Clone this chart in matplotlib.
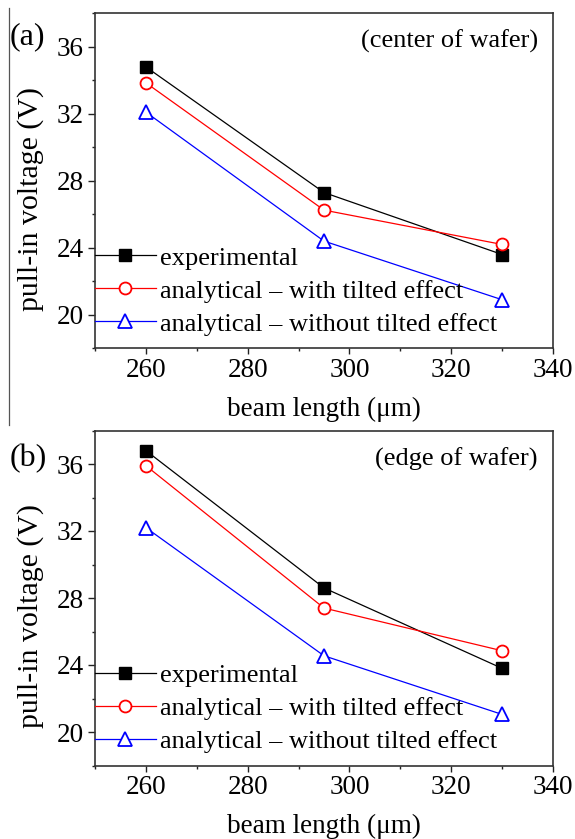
import numpy as np
import matplotlib
matplotlib.use("Agg")
from matplotlib import pyplot as plt
from matplotlib.lines import Line2D
from matplotlib.ticker import MultipleLocator

### data ###

beam_length = [260, 295, 330]

# (a) center of wafer
center_exp = [34.8, 27.3, 23.6]
center_tilt = [33.85, 26.25, 24.2]
center_no_tilt = [32.1, 24.4, 20.9]

# (b) edge of wafer
edge_exp = [36.8, 28.6, 23.8]
edge_tilt = [35.9, 27.4, 24.85]
edge_no_tilt = [32.2, 24.55, 21.05]

series_labels = ["experimental",
                 "analytical \u2013 with tilted effect",
                 "analytical \u2013 without tilted effect"]
panel_tags = ["(a)", "(b)"]
panel_notes = ["(center of wafer)", "(edge of wafer)"]

### style ###

plt.rcParams['font.family'] = ['Liberation Serif', 'DejaVu Serif']

W, H = 575, 839


def draw_panel(fig, rect, exp, tilt, no_tilt, tag, note, tag_y):
    ax = fig.add_axes(rect)
    ax.plot(beam_length, exp, color='black', lw=0.9, marker='s', markersize=8.4,
            markerfacecolor='black', markeredgecolor='black', label=series_labels[0])
    ax.plot(beam_length, tilt, color='red', lw=0.9, marker='o', markersize=8.6,
            markerfacecolor='white', markeredgecolor='red', markeredgewidth=1.3,
            label=series_labels[1])
    ax.plot(beam_length, no_tilt, color='blue', lw=0.9, marker='^', markersize=9.5,
            markerfacecolor='white', markeredgecolor='blue', markeredgewidth=1.3,
            label=series_labels[2])

    ax.set_xlim(250, 340)
    ax.set_ylim(18, 38)
    ax.xaxis.set_major_locator(MultipleLocator(20))
    ax.xaxis.set_minor_locator(MultipleLocator(10))
    ax.yaxis.set_major_locator(MultipleLocator(4))
    ax.yaxis.set_minor_locator(MultipleLocator(2))
    ax.set_xticks([260, 280, 300, 320, 340])
    ax.tick_params(which='major', direction='out', length=4, width=1.0,
                   labelsize=19.5, pad=3, color='#222222')
    ax.tick_params(which='minor', direction='out', length=2.5, width=1.0, color='#222222')
    ax.tick_params(axis='y', which='major', length=5, pad=3)
    for side in ['left', 'bottom', 'top', 'right']:
        ax.spines[side].set_linewidth(1.2)
        ax.spines[side].set_color('#333333')
    ax.set_xlabel("beam length (\u03bcm)", fontsize=19.5, labelpad=10)
    ax.set_ylabel("pull-in voltage (V)", fontsize=21.5)
    # label sits a bit below the axis middle, as in the original figure
    ax.yaxis.set_label_coords(-0.112, 0.445)

    ax.text(0.967, 0.915, note, transform=ax.transAxes, ha='right', va='center',
            fontsize=19)
    fig.text(10 / W, tag_y, tag, ha='left', va='center', fontsize=23)

    ax.legend(loc='lower left', bbox_to_anchor=(0.0, 0.038), frameon=False,
              fontsize=19, handlelength=2.3, handletextpad=0.18,
              labelspacing=0.36, borderpad=0.0, borderaxespad=0.0)
    return ax


fig = plt.figure(figsize=(W / 100, H / 100), dpi=100)

left = 95 / W
width = 458 / W
height = 335 / H

draw_panel(fig, [left, 1 - 348.3 / H, width, height],
           center_exp, center_tilt, center_no_tilt,
           panel_tags[0], panel_notes[0], 1 - 37 / H)
draw_panel(fig, [left, 1 - 765.5 / H, width, height],
           edge_exp, edge_tilt, edge_no_tilt,
           panel_tags[1], panel_notes[1], 1 - 459 / H)

# thin frame line on the left of the upper panel
fig.add_artist(Line2D([9 / W, 9 / W], [1 - 8 / H, 1 - 425 / H],
                      transform=fig.transFigure, color='#555555', lw=0.9))

fig.savefig("out.png", dpi=100)
